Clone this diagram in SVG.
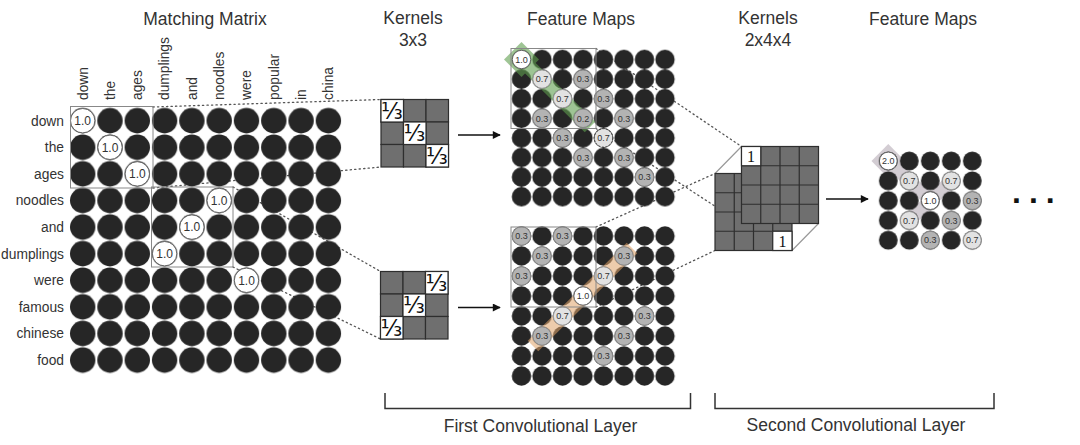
<svg xmlns="http://www.w3.org/2000/svg" width="1080" height="445" viewBox="0 0 1080 445">
<style>
text{font-family:"Liberation Sans",Arial,sans-serif;fill:#333}
.title{font-size:17.5px;text-anchor:middle}
.lab{font-size:13.8px}
.rl{text-anchor:end}
.v12{font-size:12px;text-anchor:middle}
.v9{font-size:9px;text-anchor:middle}
.w{fill:#fff;stroke:#666;stroke-width:1}
.l{fill:#e2e2e2;stroke:#999;stroke-width:1}
.g{fill:#b3b3b3;stroke:#8a8a8a;stroke-width:1}
.d{fill:#e2e2e2;stroke:#444;stroke-width:1;stroke-dasharray:2 1.5}
.box{fill:none;stroke:#888;stroke-width:1}
.dot{fill:none;stroke:#555;stroke-width:1.3;stroke-dasharray:1.3 3.2;stroke-linecap:round}
.cell{fill:#6f6f6f;stroke:#2e2e2e;stroke-width:1.2}
.wc{fill:#fff;stroke:#2e2e2e;stroke-width:1.2}
.frac{font-family:"DejaVu Sans",sans-serif;font-size:22.5px;fill:#111}
.one{font-family:"Liberation Serif",serif;font-size:16px;fill:#111;text-anchor:middle}
.arr{stroke:#111;stroke-width:1.5;fill:none}
.brk{stroke:#333;stroke-width:1.5;fill:none}
</style>
<defs>
<pattern id="pm" patternUnits="userSpaceOnUse" x="69.05" y="107.4" width="27.3" height="26.6"><circle cx="13.65" cy="13.3" r="12.7" fill="#262626"/></pattern>
<pattern id="pf1" patternUnits="userSpaceOnUse" x="511.25" y="49.7" width="20.5" height="19.6"><circle cx="10.25" cy="9.8" r="9.7" fill="#262626"/></pattern>
<pattern id="pf2" patternUnits="userSpaceOnUse" x="511.25" y="226" width="20.5" height="20"><circle cx="10.25" cy="10" r="9.7" fill="#262626"/></pattern>
<pattern id="pf3" patternUnits="userSpaceOnUse" x="877.8" y="151.1" width="21" height="19.8"><circle cx="10.5" cy="9.9" r="9.4" fill="#262626"/></pattern>
<marker id="ah" viewBox="0 0 10 10" refX="9" refY="5" markerWidth="9" markerHeight="8" markerUnits="userSpaceOnUse" orient="auto"><path d="M0,0 L10,5 L0,10 z" fill="#111"/></marker>
</defs>
<rect width="1080" height="445" fill="#fff"/>

<!-- titles -->
<g id="titles">
<text class="title" x="205" y="25">Matching Matrix</text>
<text class="title" x="413" y="24">Kernels</text>
<text class="title" x="413" y="46">3x3</text>
<text class="title" x="581" y="25">Feature Maps</text>
<text class="title" x="768" y="24">Kernels</text>
<text class="title" x="768" y="46">2x4x4</text>
<text class="title" x="923" y="25">Feature Maps</text>
</g>

<!-- connectors -->
<g id="connectors">
<path class="dot" d="M153,107 L381,99.5"/>
<path class="dot" d="M153,188 L381,167"/>
<path class="dot" d="M233,187 L380.5,271.5"/>
<path class="dot" d="M233,267 L380.5,339"/>
<path class="dot" d="M596,48.5 L741.5,146.5"/>
<path class="dot" d="M596,128.5 L741.5,223.5"/>
<path class="dot" d="M596,227 L715,173.5"/>
<path class="dot" d="M596,307 L715,250.5"/>
<path class="arr" marker-end="url(#ah)" d="M458,135 H500"/>
<path class="arr" marker-end="url(#ah)" d="M458,307.5 H500"/>
<path class="arr" marker-end="url(#ah)" d="M826,199 H868"/>
</g>

<!-- matching matrix -->
<g id="matching-matrix">
<g class="lab">
<text class="rl" x="64" y="125.5">down</text>
<text class="rl" x="64" y="152">the</text>
<text class="rl" x="64" y="178.5">ages</text>
<text class="rl" x="64" y="205">noodles</text>
<text class="rl" x="64" y="232">and</text>
<text class="rl" x="64" y="258.5">dumplings</text>
<text class="rl" x="64" y="285">were</text>
<text class="rl" x="64" y="311.5">famous</text>
<text class="rl" x="64" y="338">chinese</text>
<text class="rl" x="64" y="365">food</text>
<text transform="translate(87.5,100) rotate(-90)">down</text>
<text transform="translate(114.8,100) rotate(-90)">the</text>
<text transform="translate(142.1,100) rotate(-90)">ages</text>
<text transform="translate(169.4,100) rotate(-90)">dumplings</text>
<text transform="translate(196.7,100) rotate(-90)">and</text>
<text transform="translate(224,100) rotate(-90)">noodles</text>
<text transform="translate(251.3,100) rotate(-90)">were</text>
<text transform="translate(278.6,100) rotate(-90)">popular</text>
<text transform="translate(305.9,100) rotate(-90)">in</text>
<text transform="translate(333.2,100) rotate(-90)">china</text>
</g>
<rect x="69.05" y="107.4" width="273" height="266" fill="url(#pm)"/>
<circle class="w" cx="82.7" cy="120.7" r="12.2"/><text class="v12" x="82.7" y="125">1.0</text>
<circle class="w" cx="110" cy="147.3" r="12.2"/><text class="v12" x="110" y="151.6">1.0</text>
<circle class="w" cx="137.3" cy="173.9" r="12.2"/><text class="v12" x="137.3" y="178.2">1.0</text>
<circle class="w" cx="219.2" cy="200.5" r="12.2"/><text class="v12" x="219.2" y="204.8">1.0</text>
<circle class="w" cx="191.9" cy="227.1" r="12.2"/><text class="v12" x="191.9" y="231.4">1.0</text>
<circle class="w" cx="164.6" cy="253.7" r="12.2"/><text class="v12" x="164.6" y="258">1.0</text>
<circle class="w" cx="246.5" cy="280.3" r="12.2"/><text class="v12" x="246.5" y="284.6">1.0</text>
<rect class="box" x="70.5" y="106.5" width="82.5" height="81.5"/>
<rect class="box" x="151.5" y="187" width="81.5" height="80"/>
</g>

<!-- kernels 3x3 -->
<g id="kernel-top">
<rect class="cell" x="381" y="99.5" width="22.5" height="22.5"/><rect class="cell" x="403.5" y="99.5" width="22.5" height="22.5"/><rect class="cell" x="426" y="99.5" width="22.5" height="22.5"/>
<rect class="cell" x="381" y="122" width="22.5" height="22.5"/><rect class="cell" x="403.5" y="122" width="22.5" height="22.5"/><rect class="cell" x="426" y="122" width="22.5" height="22.5"/>
<rect class="cell" x="381" y="144.5" width="22.5" height="22.5"/><rect class="cell" x="403.5" y="144.5" width="22.5" height="22.5"/><rect class="cell" x="426" y="144.5" width="22.5" height="22.5"/>
<rect class="wc" x="381" y="99.5" width="22.5" height="22.5"/><text class="frac" x="381" y="118.5">⅓</text>
<rect class="wc" x="403.5" y="122" width="22.5" height="22.5"/><text class="frac" x="403.5" y="141">⅓</text>
<rect class="wc" x="426" y="144.5" width="22.5" height="22.5"/><text class="frac" x="426" y="163.5">⅓</text>
</g>
<g id="kernel-bottom">
<rect class="cell" x="380.5" y="271.5" width="22.5" height="22.5"/><rect class="cell" x="403" y="271.5" width="22.5" height="22.5"/><rect class="cell" x="425.5" y="271.5" width="22.5" height="22.5"/>
<rect class="cell" x="380.5" y="294" width="22.5" height="22.5"/><rect class="cell" x="403" y="294" width="22.5" height="22.5"/><rect class="cell" x="425.5" y="294" width="22.5" height="22.5"/>
<rect class="cell" x="380.5" y="316.5" width="22.5" height="22.5"/><rect class="cell" x="403" y="316.5" width="22.5" height="22.5"/><rect class="cell" x="425.5" y="316.5" width="22.5" height="22.5"/>
<rect class="wc" x="425.5" y="271.5" width="22.5" height="22.5"/><text class="frac" x="425.5" y="290.5">⅓</text>
<rect class="wc" x="403" y="294" width="22.5" height="22.5"/><text class="frac" x="403" y="313">⅓</text>
<rect class="wc" x="380.5" y="316.5" width="22.5" height="22.5"/><text class="frac" x="380.5" y="335.5">⅓</text>
</g>

<!-- feature map top -->
<g id="feature-map-top">
<rect x="511.25" y="49.7" width="164" height="156.8" fill="url(#pf1)"/>
<g fill="#5f9e4e" opacity="0.6">
<path d="M521.5,42 L539,59.5 L521.5,77 L504,59.5 z"/>
<path d="M521.5,59.5 L590,127" stroke="#5f9e4e" stroke-width="15" stroke-linecap="butt"/>
</g>
<circle class="w" cx="521.5" cy="59.5" r="9.2"/><text class="v9" x="521.5" y="62.7">1.0</text>
<circle class="l" cx="542" cy="79.1" r="9.2"/><text class="v9" x="542" y="82.3">0.7</text>
<circle class="g" cx="583" cy="79.1" r="9.2"/><text class="v9" x="583" y="82.3">0.3</text>
<circle class="l" cx="562.5" cy="98.7" r="9.2"/><text class="v9" x="562.5" y="101.9">0.7</text>
<circle class="g" cx="603.5" cy="98.7" r="9.2"/><text class="v9" x="603.5" y="101.9">0.3</text>
<circle class="g" cx="542" cy="118.3" r="9.2"/><text class="v9" x="542" y="121.5">0.3</text>
<circle class="g" cx="583" cy="118.3" r="9.2"/><text class="v9" x="583" y="121.5">0.2</text>
<circle class="g" cx="624" cy="118.3" r="9.2"/><text class="v9" x="624" y="121.5">0.3</text>
<circle class="g" cx="562.5" cy="137.9" r="9.2"/><text class="v9" x="562.5" y="141.1">0.3</text>
<circle class="d" cx="603.5" cy="137.9" r="9.2"/><text class="v9" x="603.5" y="141.1">0.7</text>
<circle class="g" cx="583" cy="157.5" r="9.2"/><text class="v9" x="583" y="160.7">0.3</text>
<circle class="g" cx="624" cy="157.5" r="9.2"/><text class="v9" x="624" y="160.7">0.3</text>
<circle class="g" cx="644.5" cy="177.1" r="9.2"/><text class="v9" x="644.5" y="180.3">0.3</text>
<rect class="box" x="511" y="48.5" width="85" height="80"/>
</g>

<!-- feature map bottom -->
<g id="feature-map-bottom">
<rect x="511.25" y="226" width="164" height="160" fill="url(#pf2)"/>
<path d="M632,248 L533,346" stroke="#e0a46a" stroke-width="15" opacity="0.55"/>
<circle class="g" cx="521.5" cy="236" r="9.2"/><text class="v9" x="521.5" y="239.2">0.3</text>
<circle class="g" cx="562.5" cy="236" r="9.2"/><text class="v9" x="562.5" y="239.2">0.3</text>
<circle class="g" cx="542" cy="256" r="9.2"/><text class="v9" x="542" y="259.2">0.3</text>
<circle class="g" cx="624" cy="256" r="9.2"/><text class="v9" x="624" y="259.2">0.3</text>
<circle class="g" cx="521.5" cy="276" r="9.2"/><text class="v9" x="521.5" y="279.2">0.3</text>
<circle class="l" cx="603.5" cy="276" r="9.2"/><text class="v9" x="603.5" y="279.2">0.7</text>
<circle class="w" cx="583" cy="296" r="9.2"/><text class="v9" x="583" y="299.2">1.0</text>
<circle class="l" cx="562.5" cy="316" r="9.2"/><text class="v9" x="562.5" y="319.2">0.7</text>
<circle class="g" cx="644.5" cy="316" r="9.2"/><text class="v9" x="644.5" y="319.2">0.3</text>
<circle class="g" cx="542" cy="336" r="9.2"/><text class="v9" x="542" y="339.2">0.3</text>
<circle class="g" cx="624" cy="336" r="9.2"/><text class="v9" x="624" y="339.2">0.3</text>
<circle class="g" cx="603.5" cy="356" r="9.2"/><text class="v9" x="603.5" y="359.2">0.3</text>
<rect class="box" x="511" y="227" width="85" height="80"/>
</g>

<!-- kernels 2x4x4 -->
<g id="kernel-2x4x4">
<path d="M715,173.5 L741.5,146.5 M792,250.5 L818.5,223.5" stroke="#999" stroke-width="1.2"/>
<g id="kernel-back">
<rect class="cell" x="715" y="173.5" width="77" height="77"/>
<path d="M734.25,173.5 V250.5 M753.5,173.5 V250.5 M772.75,173.5 V250.5 M715,192.75 H792 M715,212 H792 M715,231.25 H792" stroke="#2e2e2e" stroke-width="1.2"/>
<rect class="wc" x="772.75" y="231.25" width="19.25" height="19.25"/><text class="one" x="782.4" y="246.5">1</text>
</g>
<g id="kernel-front">
<rect class="cell" x="741.5" y="146.5" width="77" height="77"/>
<path d="M760.75,146.5 V223.5 M780,146.5 V223.5 M799.25,146.5 V223.5 M741.5,165.75 H818.5 M741.5,185 H818.5 M741.5,204.25 H818.5" stroke="#2e2e2e" stroke-width="1.2"/>
<rect class="wc" x="741.5" y="146.5" width="19.25" height="19.25"/><text class="one" x="751.1" y="162">1</text>
</g>
</g>

<!-- feature map right -->
<g id="feature-map-right">
<g fill="#c9c1c9" stroke="#c9c1c9" opacity="0.8">
<path d="M888.3,144 L905,161 L888.3,178 L871.5,161 z" stroke="none"/>
<path d="M888.3,161 L930.3,200.6" stroke-width="13" fill="none"/>
<path d="M951.3,180.8 L909.3,220.4" stroke-width="13" fill="none"/>
</g>
<rect x="877.8" y="151.1" width="105" height="99" fill="url(#pf3)"/>
<circle class="w" cx="888.3" cy="161" r="8.9"/><text class="v9" x="888.3" y="164.2">2.0</text>
<circle class="l" cx="909.3" cy="180.8" r="8.9"/><text class="v9" x="909.3" y="184">0.7</text>
<circle class="l" cx="951.3" cy="180.8" r="8.9"/><text class="v9" x="951.3" y="184">0.7</text>
<circle class="w" cx="930.3" cy="200.6" r="8.9"/><text class="v9" x="930.3" y="203.8">1.0</text>
<circle class="g" cx="972.3" cy="200.6" r="8.9"/><text class="v9" x="972.3" y="203.8">0.3</text>
<circle class="l" cx="909.3" cy="220.4" r="8.9"/><text class="v9" x="909.3" y="223.6">0.7</text>
<circle class="g" cx="951.3" cy="220.4" r="8.9"/><text class="v9" x="951.3" y="223.6">0.3</text>
<circle class="g" cx="930.3" cy="240.2" r="8.9"/><text class="v9" x="930.3" y="243.4">0.3</text>
<circle class="l" cx="972.3" cy="240.2" r="8.9"/><text class="v9" x="972.3" y="243.4">0.7</text>
</g>

<g id="ellipsis">
<text x="1012" y="203" style="font-size:32px;font-weight:bold;letter-spacing:8px;fill:#111">...</text>
</g>

<!-- layer brackets -->
<g id="layers">
<path class="brk" d="M385,393 V408.5 H690.5 V393"/>
<path class="brk" d="M715,393 V408.5 H994 V393"/>
<text class="title" x="540.5" y="431.5">First Convolutional Layer</text>
<text class="title" x="856" y="431">Second Convolutional Layer</text>
</g>
</svg>
